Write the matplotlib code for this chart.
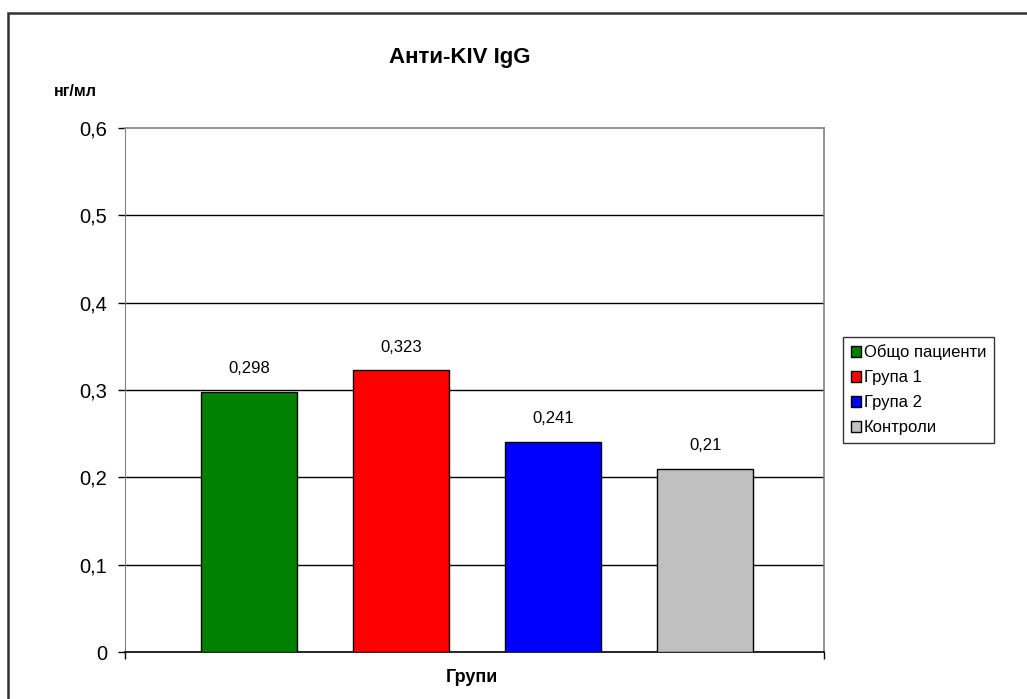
import matplotlib
matplotlib.use("Agg")
import matplotlib.pyplot as plt
from matplotlib.patches import Rectangle

plt.rcParams['font.family'] = ['Liberation Sans', 'DejaVu Sans']

groups = ["Общо пациенти", "Група 1", "Група 2", "Контроли"]
values = [0.298, 0.323, 0.241, 0.21]
colors = ["#008000", "#FF0000", "#0000FF", "#C0C0C0"]
value_labels = ["0,298", "0,323", "0,241", "0,21"]
yticks = [0, 0.1, 0.2, 0.3, 0.4, 0.5, 0.6]
ytick_labels = ["0", "0,1", "0,2", "0,3", "0,4", "0,5", "0,6"]
title = "Анти-KIV IgG"
y_unit = "нг/мл"
x_title = "Групи"

W, H = 1027, 699
fig = plt.figure(figsize=(W / 100, H / 100), dpi=100)
fig.patch.set_facecolor("white")

# outer chart frame
fig.patches.append(Rectangle((8 / W, -0.02), 1.1, (H - 13) / H + 0.02,
                             transform=fig.transFigure, fill=False,
                             edgecolor="#333333", linewidth=1.8, clip_on=False))

ax = fig.add_axes([125 / W, 47 / H, 699 / W, 524 / H])
x = list(range(len(values)))
bars = ax.bar(x, values, width=0.63, color=colors, edgecolor="black",
              linewidth=1.0, zorder=3, label=groups)

ax.set_xlim(-0.815, 3.78)
ax.set_ylim(0, 0.6)
ax.set_yticks(yticks)
ax.set_yticklabels(ytick_labels, fontsize=14.5)
ax.set_xticks([-0.815, 3.78])
ax.set_xticklabels(["", ""])
ax.tick_params(axis="both", direction="out", length=5, width=1, color="black")
ax.tick_params(axis="y", pad=8)

for yv in yticks[1:-1]:
    ax.axhline(yv, color="black", linewidth=1.0, zorder=1)

for sp in ["top", "right"]:
    ax.spines[sp].set_color("#808080")
    ax.spines[sp].set_linewidth(1.2)
ax.spines["left"].set_color("#808080")
ax.spines["bottom"].set_color("black")
ax.spines["bottom"].set_linewidth(1.2)

for xi, v, lab in zip(x, values, value_labels):
    ax.annotate(lab, (xi, v), xytext=(0, 11), textcoords="offset points",
                ha="center", va="bottom", fontsize=12)

fig.text(460 / W, 1 - 58 / H, title, ha="center", va="center",
         fontsize=16, fontweight="bold")
fig.text(54 / W, 1 - 91 / H, y_unit, ha="left", va="center",
         fontsize=11.5, fontweight="bold")
fig.text(472 / W, 1 - 678 / H, x_title, ha="center", va="center",
         fontsize=13, fontweight="bold")

leg = fig.legend(handles=bars, labels=groups, loc="upper left",
                 bbox_to_anchor=(843 / W, 1 - 337 / H), fontsize=12,
                 handlelength=0.6, handleheight=0.6, handletextpad=0.2,
                 labelspacing=0.6, borderpad=0.45, borderaxespad=0,
                 frameon=True, fancybox=False)
leg.get_frame().set_edgecolor("black")
leg.get_frame().set_linewidth(1.0)

fig.savefig("out.png", dpi=100)
